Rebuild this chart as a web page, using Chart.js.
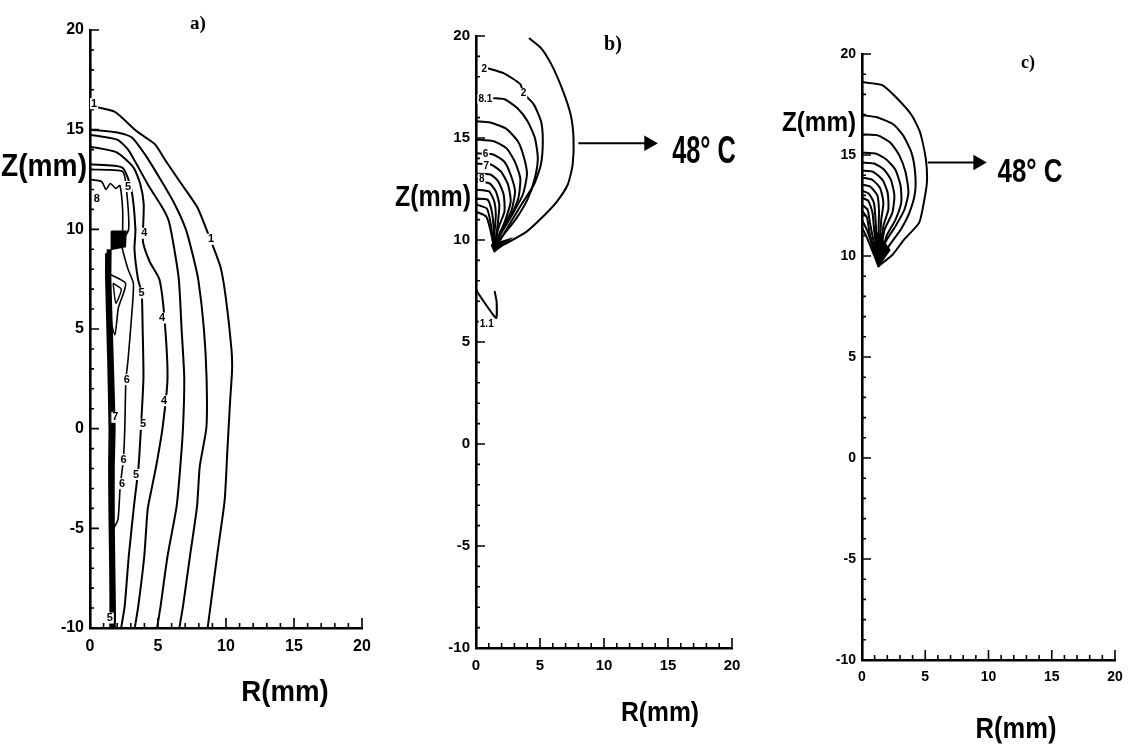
<!DOCTYPE html>
<html>
<head>
<meta charset="utf-8">
<script src="https://cdn.jsdelivr.net/npm/chart.js@4.4.1/dist/chart.umd.min.js"></script>
<style>
  body { margin: 0; width: 1136px; height: 750px; overflow: hidden; position: relative; background: #fff; }
  canvas { position: absolute; top: 0; }
  .t { position: absolute; color: #000; font-weight: bold; white-space: nowrap; line-height: 1;
       font-family: "Liberation Sans", Arial, sans-serif; transform: translate(-50%, -50%); }
  .p { font-family: "Liberation Serif", "DejaVu Serif", serif; }
</style>
</head>
<body>
<canvas id="chartA" width="400" height="750" style="left:0"></canvas>
<canvas id="chartB" width="380" height="750" style="left:400px"></canvas>
<canvas id="chartC" width="356" height="750" style="left:780px"></canvas>

<div class="t p" style="left:198px;top:22px;font-size:19px">a)</div>
<div class="t p" style="left:613px;top:43px;font-size:20px">b)</div>
<div class="t p" style="left:1028px;top:62px;font-size:18px">c)</div>

<div class="t" style="left:44px;top:165px;font-size:32px;transform:translate(-50%,-50%) scaleX(0.88)">Z(mm)</div>
<div class="t" style="left:433px;top:196px;font-size:29px;transform:translate(-50%,-50%) scaleX(0.86)">Z(mm)</div>
<div class="t" style="left:819px;top:122px;font-size:27px;transform:translate(-50%,-50%) scaleX(0.9)">Z(mm)</div>

<div class="t" style="left:285px;top:691px;font-size:30px;transform:translate(-50%,-50%) scaleX(0.92)">R(mm)</div>
<div class="t" style="left:660px;top:712px;font-size:28px;transform:translate(-50%,-50%) scaleX(0.88)">R(mm)</div>
<div class="t" style="left:1016px;top:728px;font-size:29px;transform:translate(-50%,-50%) scaleX(0.88)">R(mm)</div>

<div class="t" style="left:704px;top:149px;font-size:39px;transform:translate(-50%,-50%) scaleX(0.65)">48° C</div>
<div class="t" style="left:1030px;top:170px;font-size:34px;transform:translate(-50%,-50%) scaleX(0.76)">48° C</div>

<script>
// axis ranges and tick labels (same for the three panels)
const rRange = [0, 20];
const zRange = [-10, 20];
const tickStep = 5;

// ---- panel a) : isotherms, R (mm) vs Z (mm)
const aLine1 = [[0,16.2],[1.8,15.9],[3.3,15.0],[4.0,14.65],[4.8,14.25],[5.6,13.4],[6.6,12.4],[7.9,11.1],[8.7,9.75],[9.6,8.1],[10.0,6.5],[10.4,4.0],[10.45,3.0],[10.3,1.35],[10.1,-1.1],[9.9,-3.6],[9.4,-6.1],[8.65,-10]];
const aLine2 = [[0,15.0],[2.1,14.85],[3.1,14.6],[4.1,13.7],[5.1,12.6],[6.2,11.3],[7.05,10.0],[7.6,8.6],[7.97,7.44],[8.37,5.05],[8.57,2.56],[8.56,0.07],[8.07,-1.9],[7.87,-3.9],[7.35,-6.4],[6.84,-8.9],[6.57,-10]];
const aLine3 = [[0,14.75],[2.0,14.5],[2.8,14.0],[3.4,13.3],[4.3,12.2],[5.4,11.0],[5.8,10.4],[6.2,9.0],[6.54,7.44],[6.73,5.05],[6.93,2.56],[6.84,0.07],[6.64,-1.9],[6.37,-3.9],[5.7,-6.4],[5.19,-8.9],[4.93,-10]];
const aLine4 = [[0,14.15],[1.96,13.86],[3.2,13.1],[3.7,12.26],[3.95,11.27],[3.9,10.0],[3.9,9.35],[4.4,8.36],[5.1,7.5],[5.46,5.66],[5.7,2.56],[5.34,0.07],[4.86,-1.9],[4.52,-3.05],[4.24,-4.05],[3.99,-6.4],[3.55,-8.9],[3.29,-10]];
const aLine5 = [[0,13.26],[2.37,13.1],[3.04,12.0],[3.34,10.0],[3.27,9.0],[3.53,7.5],[3.8,6.8],[3.87,5.05],[3.93,2.56],[3.76,0.22],[3.57,-1.9],[3.23,-3.9],[2.85,-6.4],[2.55,-8.9],[2.29,-10]];
const aLine6 = [[0,13.0],[2.39,12.9],[2.68,12.0],[2.84,10.0],[2.33,9.28],[2.78,8.03],[3.19,7.29],[3.09,5.9],[2.79,3.4],[2.64,2.46],[2.56,0.07],[2.46,-1.5],[2.22,-2.9],[2.06,-4.55],[1.75,-5.0]];
const aLine7 = [[0,12.5],[0.85,12.4],[1.18,12.0],[1.5,12.3],[1.9,12.05],[2.2,12.2],[2.4,11.0],[2.4,9.9]];
const aLoopOut = [[1.33,7.79],[2.62,7.29],[2.08,6.04],[1.83,4.7],[1.36,6.04],[1.33,7.79]];
const aLoopIn = [[1.7,7.3],[2.3,7.0],[1.9,6.3],[1.7,7.3]];
const aBlob = [[1.57,9.9],[2.64,9.9],[2.6,9.13],[1.6,9.0],[1.57,9.9]];
const aBandA = [[1.41,9.0],[1.39,7.5],[1.56,3.55],[1.7,0.07],[1.64,-1.9],[1.64,-4.55],[1.68,-6.9],[1.73,-9.4],[1.71,-10]];
const aBandB = [[1.2,8.8],[1.2,7.5],[1.35,3.5],[1.45,0.0],[1.42,-2.0],[1.45,-4.5],[1.5,-7.0],[1.52,-9.5],[1.5,-10]];
const aLabels = [["1",0.3,16.3],["1",8.9,9.5],["4",4.0,9.8],["4",5.3,5.55],["4",5.44,1.4],["5",2.8,12.15],["5",3.8,6.8],["5",3.9,0.22],["5",3.39,-2.3],["6",2.7,2.46],["6",2.47,-1.55],["6",2.36,-2.76],["7",1.87,0.57],["8",0.5,11.5],["5",1.45,-9.5]];

// ---- panel b)
const bOuter = [[4.14,19.9],[5.08,19.41],[5.88,18.62],[6.71,17.44],[7.39,16.16],[7.62,14.98],[7.55,13.7],[7.17,12.72],[6.32,11.88],[5.38,11.24],[3.93,10.4],[2.17,9.77],[1.44,9.52]];
const bLine2 = [[0.86,18.43],[2.15,18.18],[3.46,17.64],[3.71,17.2],[4.5,16.66],[5.08,15.82],[5.22,14.84],[5.07,13.7],[4.53,12.72],[3.55,11.74],[2.42,10.56],[1.44,9.52]];
const bLine3 = [[1.25,16.95],[2.23,16.9],[3.24,16.46],[4.03,15.82],[4.61,14.98],[4.83,14.0],[4.59,13.02],[4.05,12.03],[3.14,11.05],[1.92,10.06],[1.44,9.52]];
const bLine4 = [[0,15.82],[1.03,15.77],[2.32,15.47],[3.27,14.84],[3.77,14.0],[3.98,13.21],[3.66,12.23],[2.83,11.24],[1.91,10.26],[1.44,9.52]];
const bLine5 = [[0,14.93],[1.39,14.84],[2.39,14.49],[3.03,13.85],[3.46,13.02],[3.3,12.03],[2.62,11.05],[1.77,10.16],[1.44,9.52]];
const bLine6 = [[0,14.25],[1.28,14.2],[2.2,13.85],[2.7,13.21],[3.05,12.38],[2.74,11.39],[1.9,10.41],[1.44,9.52]];
const bLine7 = [[0,13.75],[1.16,13.7],[1.94,13.36],[2.5,12.72],[2.71,11.88],[2.25,10.9],[1.7,10.06],[1.44,9.52]];
const bLine8 = [[0,13.25],[1.12,13.21],[1.74,12.87],[2.16,12.23],[2.22,11.39],[1.74,10.56],[1.44,9.52]];
const bLine9 = [[0,12.87],[1.07,12.77],[1.55,12.38],[1.82,11.74],[1.72,10.9],[1.44,9.52]];
const bLine10 = [[0,12.47],[1.02,12.38],[1.43,11.88],[1.55,11.24],[1.45,10.41],[1.44,9.52]];
const bLine11 = [[0,12.03],[0.9,11.98],[1.24,11.39],[1.38,10.56],[1.44,9.52]];
const bLine12 = [[0,11.74],[0.85,11.54],[1.12,10.9],[1.44,9.52]];
const bLine13 = [[0,11.39],[0.8,11.15],[1.15,10.41],[1.44,9.52]];
const bTip = [[1.2,9.77],[2.68,10.06],[1.43,9.42],[1.2,9.77]];
const bSmall = [[0,7.56],[0.62,6.97],[1.18,6.47],[1.58,6.18],[1.61,6.97],[1.45,7.5]];
const bLabels = [["2",0.65,18.38],["2",3.71,17.2],["8.1",0.73,16.9],["6",0.75,14.2],["7",0.8,13.6],["8",0.45,13.0],["1.1",0.84,5.88]];
const bArrow = [[8.0,14.74],[13.5,14.74]];

// ---- panel c)
const cOuter = [[0,18.61],[1.6,18.46],[2.84,17.76],[3.93,16.97],[4.59,16.12],[5.05,14.78],[5.13,13.63],[4.84,12.49],[4.51,11.64],[3.31,10.8],[2.39,10.05],[1.3,9.5]];
const cLine2 = [[0,16.97],[1.18,16.87],[2.47,16.52],[3.25,15.97],[3.91,15.12],[4.2,14.13],[4.19,13.13],[3.74,12.14],[3.04,11.29],[2.13,10.5],[1.3,9.5]];
const cLine3 = [[0,16.02],[1.24,15.97],[2.23,15.62],[2.95,14.98],[3.45,14.13],[3.67,13.13],[3.35,12.29],[2.66,11.49],[1.82,10.65],[1.3,9.5]];
const cLine4 = [[0,15.12],[1.07,15.07],[1.92,14.78],[2.63,14.28],[3.05,13.48],[3.1,12.64],[2.64,11.79],[1.95,11.0],[1.3,9.5]];
const cLine5 = [[0,14.63],[0.96,14.58],[1.73,14.28],[2.28,13.78],[2.56,12.99],[2.4,12.14],[1.78,11.29],[1.3,9.5]];
const cLine6 = [[0,14.23],[0.84,14.18],[1.61,13.78],[2.03,13.13],[2.08,12.29],[1.69,11.49],[1.3,9.5]];
const cLine7 = [[0,13.88],[0.79,13.78],[1.42,13.38],[1.69,12.64],[1.52,11.79],[1.3,9.5]];
const cLine8 = [[0,13.53],[0.66,13.43],[1.22,12.99],[1.34,12.29],[1.32,11.49],[1.3,9.5]];
const cLine9 = [[0,13.23],[0.54,13.08],[0.94,12.64],[1.07,11.79],[1.3,9.5]];
const cLine10 = [[0,12.88],[0.49,12.74],[0.83,12.14],[0.96,11.29],[1.3,9.5]];
const cLine11 = [[0,12.54],[0.44,12.29],[0.63,11.64],[1.3,9.5]];
const cLine12 = [[0,12.24],[0.4,11.89],[0.6,11.14],[1.3,9.5]];
const cLine13 = [[0,11.79],[0.45,11.2],[1.3,9.5]];
const cLine14 = [[0,11.39],[0.4,10.9],[1.3,9.5]];
const cTip = [[1.0,11.3],[2.2,10.3],[1.3,9.5],[1.0,11.3]];
const cArrow = [[5.2,14.63],[9.16,14.63]];

const TICK_FONT = '"Liberation Sans Narrow", "Liberation Sans", Arial, sans-serif';

function line(pts, width) {
  return {
    data: pts.map(([r, z]) => ({ x: r, y: z })),
    showLine: true, fill: false, tension: 0.2,
    borderColor: '#000', borderWidth: width || 2, pointRadius: 0
  };
}

function patch(pts) {
  return {
    data: pts.map(([r, z]) => ({ x: r, y: z })),
    showLine: true, fill: 'shape', tension: 0,
    borderColor: '#000', backgroundColor: '#000', borderWidth: 1.5, pointRadius: 0
  };
}

function arrow(pts) {
  return {
    data: pts.map(([r, z]) => ({ x: r, y: z })),
    showLine: true, fill: false, tension: 0,
    borderColor: '#000', borderWidth: 2,
    pointRadius: [0, 7], pointStyle: 'triangle', rotation: 90,
    pointBackgroundColor: '#000', pointBorderColor: '#000'
  };
}

// inward minor/major ticks on both axes plus the small level numbers on the isotherms
function decorations(levels, size) {
  return {
    id: 'decorations',
    afterDatasetsDraw(chart) {
      const { ctx, chartArea: a, scales: { x, y } } = chart;
      ctx.save();
      ctx.strokeStyle = '#000';
      ctx.lineWidth = 1.6;
      ctx.beginPath();
      for (let v = x.min; v <= x.max; v++) {
        const px = x.getPixelForValue(v);
        ctx.moveTo(px, a.bottom);
        ctx.lineTo(px, a.bottom - (v % 5 === 0 ? 10 : 5));
      }
      for (let v = y.min; v <= y.max; v++) {
        const py = y.getPixelForValue(v);
        ctx.moveTo(a.left, py);
        ctx.lineTo(a.left + (v % 5 === 0 ? 9 : 4), py);
      }
      ctx.stroke();

      ctx.font = 'bold ' + size + 'px ' + TICK_FONT;
      ctx.textAlign = 'center';
      ctx.textBaseline = 'middle';
      levels.forEach(([txt, r, z]) => {
        const px = x.getPixelForValue(r), py = y.getPixelForValue(z);
        const w = ctx.measureText(txt).width;
        ctx.fillStyle = '#fff';
        ctx.fillRect(px - w / 2 - 1, py - size / 2, w + 2, size);
        ctx.fillStyle = '#000';
        ctx.fillText(txt, px, py);
      });
      ctx.restore();
    }
  };
}

function panel(id, datasets, levels, pad, fontSize) {
  const tickFont = { family: TICK_FONT, size: fontSize, weight: 'bold' };
  return new Chart(document.getElementById(id), {
    type: 'scatter',
    data: { datasets },
    options: {
      responsive: false,
      animation: false,
      events: [],
      layout: { padding: pad },
      plugins: { legend: { display: false }, tooltip: { enabled: false } },
      scales: {
        x: {
          type: 'linear', min: rRange[0], max: rRange[1],
          grid: { display: false, drawTicks: false },
          border: { display: true, color: '#000', width: 2.6 },
          ticks: { stepSize: tickStep, color: '#000', font: tickFont, padding: 9 },
          afterFit(s) { s.height = 40; }
        },
        y: {
          type: 'linear', min: zRange[0], max: zRange[1],
          grid: { display: false, drawTicks: false },
          border: { display: true, color: '#000', width: 2.6 },
          ticks: { stepSize: tickStep, color: '#000', font: tickFont, padding: 6 },
          afterFit(s) { s.width = 40; }
        }
      }
    },
    plugins: [decorations(levels, fontSize - 5)]
  });
}

panel('chartA', [
  line(aLine1), line(aLine2), line(aLine3), line(aLine4), line(aLine5),
  line(aLine6, 1.6), line(aLine7, 1.6), line(aLoopOut, 1.6), line(aLoopIn, 1.4),
  patch(aBlob), line(aBandA, 5), line(aBandB, 2.5)
], aLabels, { left: 50, right: 38, top: 30, bottom: 82 }, 16);

panel('chartB', [
  line(bOuter), line(bLine2), line(bLine3), line(bLine4), line(bLine5), line(bLine6),
  line(bLine7), line(bLine8), line(bLine9), line(bLine10), line(bLine11), line(bLine12),
  line(bLine13), patch(bTip), line(bSmall), arrow(bArrow)
], bLabels, { left: 36, right: 48, top: 36, bottom: 62 }, 15);

panel('chartC', [
  line(cOuter), line(cLine2), line(cLine3), line(cLine4), line(cLine5), line(cLine6),
  line(cLine7), line(cLine8), line(cLine9), line(cLine10), line(cLine11), line(cLine12),
  line(cLine13), line(cLine14), patch(cTip), arrow(cArrow)
], [], { left: 42, right: 21, top: 54, bottom: 50 }, 14);
</script>
</body>
</html>
